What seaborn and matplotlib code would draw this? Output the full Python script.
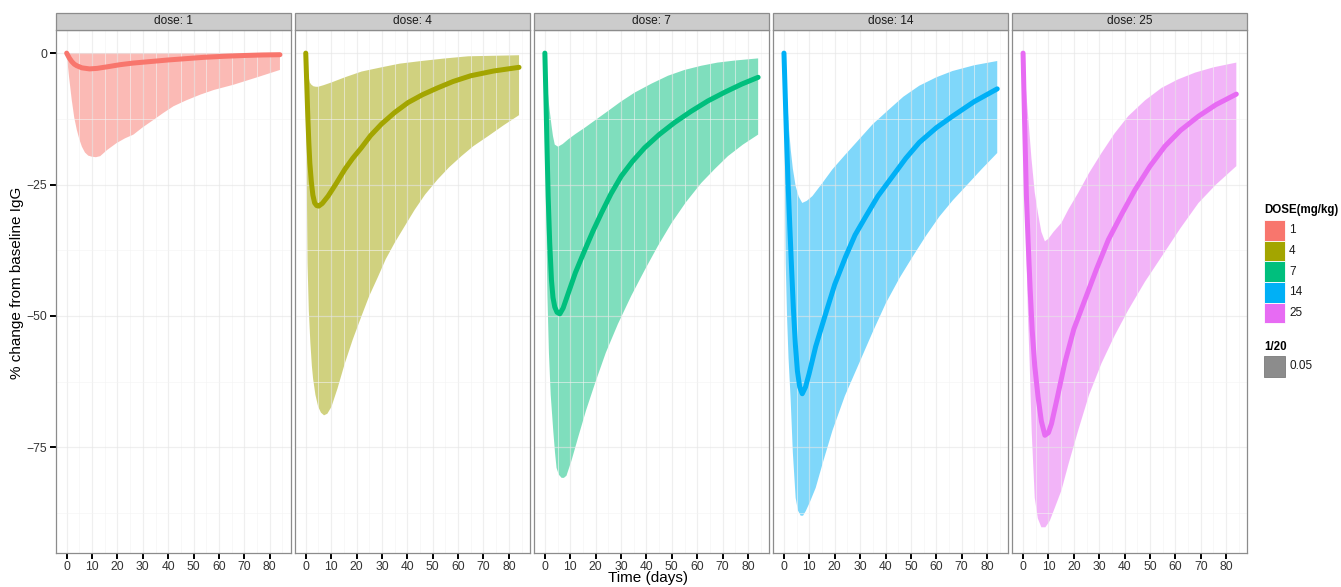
import numpy as np
import matplotlib
matplotlib.use("Agg")
import matplotlib.pyplot as plt
import seaborn as sns
from matplotlib.patches import Rectangle

# ---------------- data ----------------
doses = [1, 4, 7, 14, 25]
colors = ["#F8766D", "#A3A500", "#00BF7D", "#00B0F6", "#E76BF3"]
x_ticks = [0, 10, 20, 30, 40, 50, 60, 70, 80]
y_ticks = [0, -25, -50, -75]

# dose 1
d1_med_day = [0, 1, 2, 3, 4, 6, 9, 12, 16, 21, 26, 33, 40, 47, 54, 62, 70, 77, 84]
d1_med = [0, -0.9, -1.6, -2.1, -2.4, -2.8, -3.0, -2.9, -2.6, -2.2, -1.9, -1.6, -1.3,
          -1.05, -0.8, -0.6, -0.45, -0.35, -0.3]
d1_hi_day = [0, 20, 40, 60, 84]
d1_hi = [0, 0, 0, 0, 0]
d1_lo_day = [0, 0.5, 1, 2, 3, 4, 5, 6, 7.2, 8.5, 9.9, 11.5, 13.2, 16, 19.7, 23, 26.3,
             30, 34.2, 38, 42.1, 47, 52.6, 58, 65.8, 75, 84]
d1_lo = [0, -2.5, -4.8, -8.9, -12.3, -14.6, -16.4, -17.8, -18.9, -19.5, -19.7, -19.8,
         -19.6, -18.4, -17.1, -16.2, -15.5, -14.1, -12.7, -11.4, -10.1, -9.0, -7.9,
         -7.0, -6.0, -4.6, -3.2]

# dose 4
d4_med_day = [0, 0.4, 0.8, 1.2, 1.6, 2.2, 2.8, 3.5, 4.3, 5.1, 6.5, 8.8, 12, 15.4, 18.5,
              21.9, 25.5, 29.8, 35, 40.3, 46, 52, 58, 65, 74, 84]
d4_med = [0, -6, -12, -17, -20.9, -24.5, -27, -28.5, -29, -29.1, -28.6, -27.2, -24.8,
          -22.1, -20, -18, -15.7, -13.5, -11.3, -9.4, -7.9, -6.6, -5.4, -4.3, -3.4, -2.7]
d4_hi_day = [0, 0.4, 0.8, 1.2, 1.6, 2.2, 3, 4, 4.9, 7, 10, 15.4, 22, 29.8, 37, 45.5,
             55, 64, 74, 84]
d4_hi = [0, -2, -3.5, -4.7, -5.6, -6.0, -6.3, -6.4, -6.4, -6.1, -5.6, -4.6, -3.5, -2.7,
         -2.0, -1.5, -1.0, -0.6, -0.5, -0.4]
d4_lo_day = [0, 0.3, 0.7, 1.2, 1.8, 2.4, 2.9, 3.8, 4.9, 6, 7.2, 8.5, 10.1, 12.5, 15.4,
             18.5, 21.9, 25, 28.5, 31.5, 35, 39, 42.9, 47, 52, 56.5, 61.3, 66, 71.8, 78, 84]
d4_lo = [0, -20, -40, -49, -55, -59.5, -62, -65, -67.3, -68.4, -68.9, -68.6, -67.3,
         -63.8, -59, -54.5, -50.1, -46.2, -42.5, -39.2, -36.1, -32.9, -29.8, -26.9, -24,
         -21.7, -19.6, -17.7, -15.8, -13.7, -11.8]

# dose 7
d7_med_day = [0, 0.4, 0.8, 1.3, 1.9, 2.6, 3.2, 3.9, 4.8, 5.9, 7.2, 9.2, 12, 15.7, 19,
              22.3, 26, 30.1, 34.5, 39.3, 45, 51.1, 57.5, 64.2, 71, 77.5, 84]
d7_med = [0, -8, -17, -27.3, -36, -43.2, -46.5, -48.3, -49.3, -49.6, -48.5, -45.7,
          -41.8, -37.5, -33.8, -30.4, -26.8, -23.4, -20.6, -18, -15.5, -13.2, -11.1,
          -9.1, -7.4, -5.9, -4.6]
d7_hi_day = [0, 0.5, 1, 1.5, 2, 2.6, 3.2, 3.9, 5.2, 7, 9.2, 12, 15.7, 20, 24.9, 30,
             35.4, 42, 48.5, 55, 61.6, 68, 75, 84]
d7_hi = [0, -3.5, -6.5, -9.2, -11.3, -13.7, -15.8, -17.4, -17.8, -17.3, -16.4, -15.4,
         -14.2, -12.7, -11, -9.2, -7.5, -5.8, -4.3, -3.2, -2.4, -1.8, -1.4, -1.0]
d7_lo_day = [0, 0.3, 0.6, 1, 1.6, 2.3, 3.3, 4, 4.6, 5.5, 6.6, 7.5, 8.5, 10.5, 13.1,
             16.2, 19.7, 24, 28.8, 34, 39.3, 44.5, 49.8, 55.5, 61.6, 67, 72.1, 78, 84]
d7_lo = [0, -18, -33, -46, -57, -65, -71.8, -76, -78.9, -80.2, -80.8, -80.8, -80.4,
         -77.5, -73.1, -68, -62.9, -57, -51.5, -46.2, -41.3, -36.7, -32.4, -28.4, -24.7,
         -22, -19.6, -17.4, -15.5]

# dose 14
d14_med_day = [0, 0.5, 1, 1.6, 2.3, 3, 3.7, 4.5, 5.3, 6.2, 7.2, 8.5, 9.9, 12.5, 16.4,
               20, 24.3, 28, 32.2, 37, 42.8, 48, 53.3, 60, 66.4, 75, 84]
d14_med = [0, -8, -16, -24.5, -33, -41, -48.5, -55.5, -60.5, -63.5, -64.8, -63.5, -61,
           -55.8, -49.6, -44, -38.7, -34.6, -31.1, -27.2, -23.4, -20, -17, -14.2, -12,
           -9.2, -6.8]
d14_hi_day = [0, 0.5, 1, 1.5, 2, 2.7, 3.5, 4.6, 5.8, 7.2, 9, 11.2, 15, 19.1, 24, 29.6,
              35, 41.4, 47, 53.3, 60, 66.4, 75, 84]
d14_hi = [0, -3.5, -7, -10.8, -14.5, -18.5, -22, -25.3, -27.3, -28.5, -28.1, -27.2,
          -24.8, -22.1, -19.4, -16.4, -13.5, -10.7, -8.3, -6.2, -4.6, -3.4, -2.3, -1.5]
d14_lo_day = [0, 0.3, 0.7, 1.2, 1.8, 2.6, 3.5, 4.6, 5.5, 6.6, 7.5, 8.6, 10.3, 12.5,
              15.5, 19.1, 24, 29.6, 35, 40.1, 45.5, 50.7, 56, 61.2, 66.5, 71.7, 78, 84]
d14_lo = [0, -20, -40, -50, -58, -65.5, -76, -84.6, -87, -88, -88, -87.1, -85.3, -82.7,
          -77.6, -71.8, -65.2, -59, -53, -47.6, -42.8, -38.7, -34.7, -31.1, -28, -25.3,
          -22, -19]

# dose 25
d25_med_day = [0, 0.6, 1.3, 2, 2.8, 3.6, 4.6, 5.9, 7.2, 8.6, 10, 11.2, 13.5, 16.4, 20,
               24.3, 29, 33.6, 39, 44.1, 50, 55.9, 62, 69.1, 76, 84]
d25_med = [0, -13, -27, -36, -45, -52.7, -59.5, -65.4, -70, -72.7, -72.2, -70.5, -65.5,
           -59, -52.5, -47, -41, -35.5, -30.5, -26, -21.5, -17.7, -14.7, -12, -9.8, -7.8]
d25_hi_day = [0, 1, 2, 3.3, 4.6, 5.9, 7.2, 8.6, 10, 12, 15.1, 18, 21.7, 26, 30.9, 36,
              41.4, 48, 54.6, 61, 67.8, 75, 84]
d25_hi = [0, -6, -12, -20, -26.5, -30.5, -34, -35.8, -35.3, -34, -32.3, -29.6, -26.6,
          -22.8, -19, -15.3, -12, -9, -6.6, -5, -3.7, -2.7, -1.8]
d25_lo_day = [0, 0.3, 0.6, 0.9, 1.4, 2, 2.6, 3.4, 4.6, 5.8, 7.2, 8.8, 10.5, 12.5, 15.1,
              18, 21.7, 26, 30.9, 36, 41.4, 48, 54.6, 62, 69.1, 76, 84]
d25_lo = [0, -9, -18, -27.2, -40, -51, -59, -72, -84.6, -88.5, -90.2, -90.2, -89, -86.5,
          -83.2, -78, -71.8, -65, -59, -53.8, -48.9, -43.5, -38.7, -33.3, -28.5, -25, -21.5]

series = [
    (d1_med_day, d1_med, d1_hi_day, d1_hi, d1_lo_day, d1_lo),
    (d4_med_day, d4_med, d4_hi_day, d4_hi, d4_lo_day, d4_lo),
    (d7_med_day, d7_med, d7_hi_day, d7_hi, d7_lo_day, d7_lo),
    (d14_med_day, d14_med, d14_hi_day, d14_hi, d14_lo_day, d14_lo),
    (d25_med_day, d25_med, d25_hi_day, d25_hi, d25_lo_day, d25_lo),
]

# ---------------- drawing ----------------
sns.set_theme(style="white")
plt.rcParams["font.family"] = ["Liberation Sans", "DejaVu Sans"]
plt.rcParams["axes.unicode_minus"] = True

W, H = 1341, 587
fig, axes = plt.subplots(1, 5, figsize=(W / 100, H / 100), dpi=100, sharey=True)
fig.subplots_adjust(left=56 / W, right=1247 / W, bottom=1 - 552.5 / H, top=1 - 30 / H,
                    wspace=0.0192)

for i, (ax, dose, col, s) in enumerate(zip(axes, doses, colors, series)):
    med_d, med_v, hi_d, hi_v, lo_d, lo_v = s
    poly_x = np.r_[np.asarray(hi_d, float), np.asarray(lo_d, float)[::-1]]
    poly_y = np.r_[np.asarray(hi_v, float), np.asarray(lo_v, float)[::-1]]
    ax.fill(poly_x, poly_y, color=col, alpha=0.5, lw=0, zorder=1)
    sns.lineplot(x=med_d, y=med_v, ax=ax, color=col, lw=3.6, estimator=None,
                 sort=False, zorder=3)
    ax.set_xlim(-4.2, 88.2)
    ax.set_ylim(-95, 4.4)
    ax.set_xticks(x_ticks)
    ax.set_xticks([5, 15, 25, 35, 45, 55, 65, 75, 85], minor=True)
    ax.set_yticks(y_ticks)
    ax.set_yticks([-12.5, -37.5, -62.5, -87.5], minor=True)
    ax.grid(which="major", color="#E5E5E5", lw=0.9, alpha=0.6)
    ax.grid(which="minor", color="#F3F3F3", lw=0.7, alpha=0.6)
    ax.set_axisbelow("line")
    for sp in ax.spines.values():
        sp.set_color("#8C8C8C")
        sp.set_linewidth(0.9)
    ax.tick_params(which="major", direction="out", length=4, width=1.4, color="black",
                   labelsize=8.7, labelcolor="#333333", pad=2.3,
                   bottom=True, left=(i == 0))
    ax.tick_params(which="minor", length=0)
    ax.set_xlabel("")
    ax.set_ylabel("")
    # facet strip
    sh = 17 / 522
    ax.add_patch(Rectangle((0, 1), 1, sh, transform=ax.transAxes, clip_on=False,
                           facecolor="#CCCCCC", edgecolor="#8C8C8C", lw=0.9, zorder=5))
    ax.text(0.5, 1 + sh / 2, f"dose: {dose}", transform=ax.transAxes, ha="center",
            va="center", fontsize=8.6, color="#1A1A1A", zorder=6)

# axis titles
fig.text(648 / W, 1 - 578 / H, "Time (days)", ha="center", va="center", fontsize=11,
         color="black")
fig.text(17 / W, 1 - 283 / H, "% change from baseline IgG", ha="center", va="center",
         rotation=90, fontsize=11, color="black")

# legend (drawn by hand, ggplot style)
def fig_rect(x, y, w, h, fc, ec="white", lw=0.6):
    fig.add_artist(Rectangle((x / W, 1 - (y + h) / H), w / W, h / H,
                             transform=fig.transFigure, facecolor=fc, edgecolor=ec, lw=lw))

fig.text(1264 / W, 1 - 210.5 / H, "DOSE(mg/kg)", ha="left", va="center", fontsize=8.3,
         fontweight="bold", color="black")
key_tops = [220, 240.7, 261.3, 281.9, 302.6]
for top, dose, col in zip(key_tops, doses, colors):
    fig_rect(1264, top, 21, 20.6, col)
    fig.text(1289 / W, 1 - (top + 10.3) / H, str(dose), ha="left", va="center",
             fontsize=8.5, color="#1A1A1A")

fig.text(1264 / W, 1 - 347 / H, "1/20", ha="left", va="center", fontsize=8.3,
         fontweight="bold", color="black")
fig_rect(1264, 356, 21, 20.6, "#8C8C8C", ec="#7A7A7A")
fig.text(1289 / W, 1 - 366.3 / H, "0.05", ha="left", va="center", fontsize=8.5,
         color="#1A1A1A")

fig.savefig("out.png", dpi=100)
